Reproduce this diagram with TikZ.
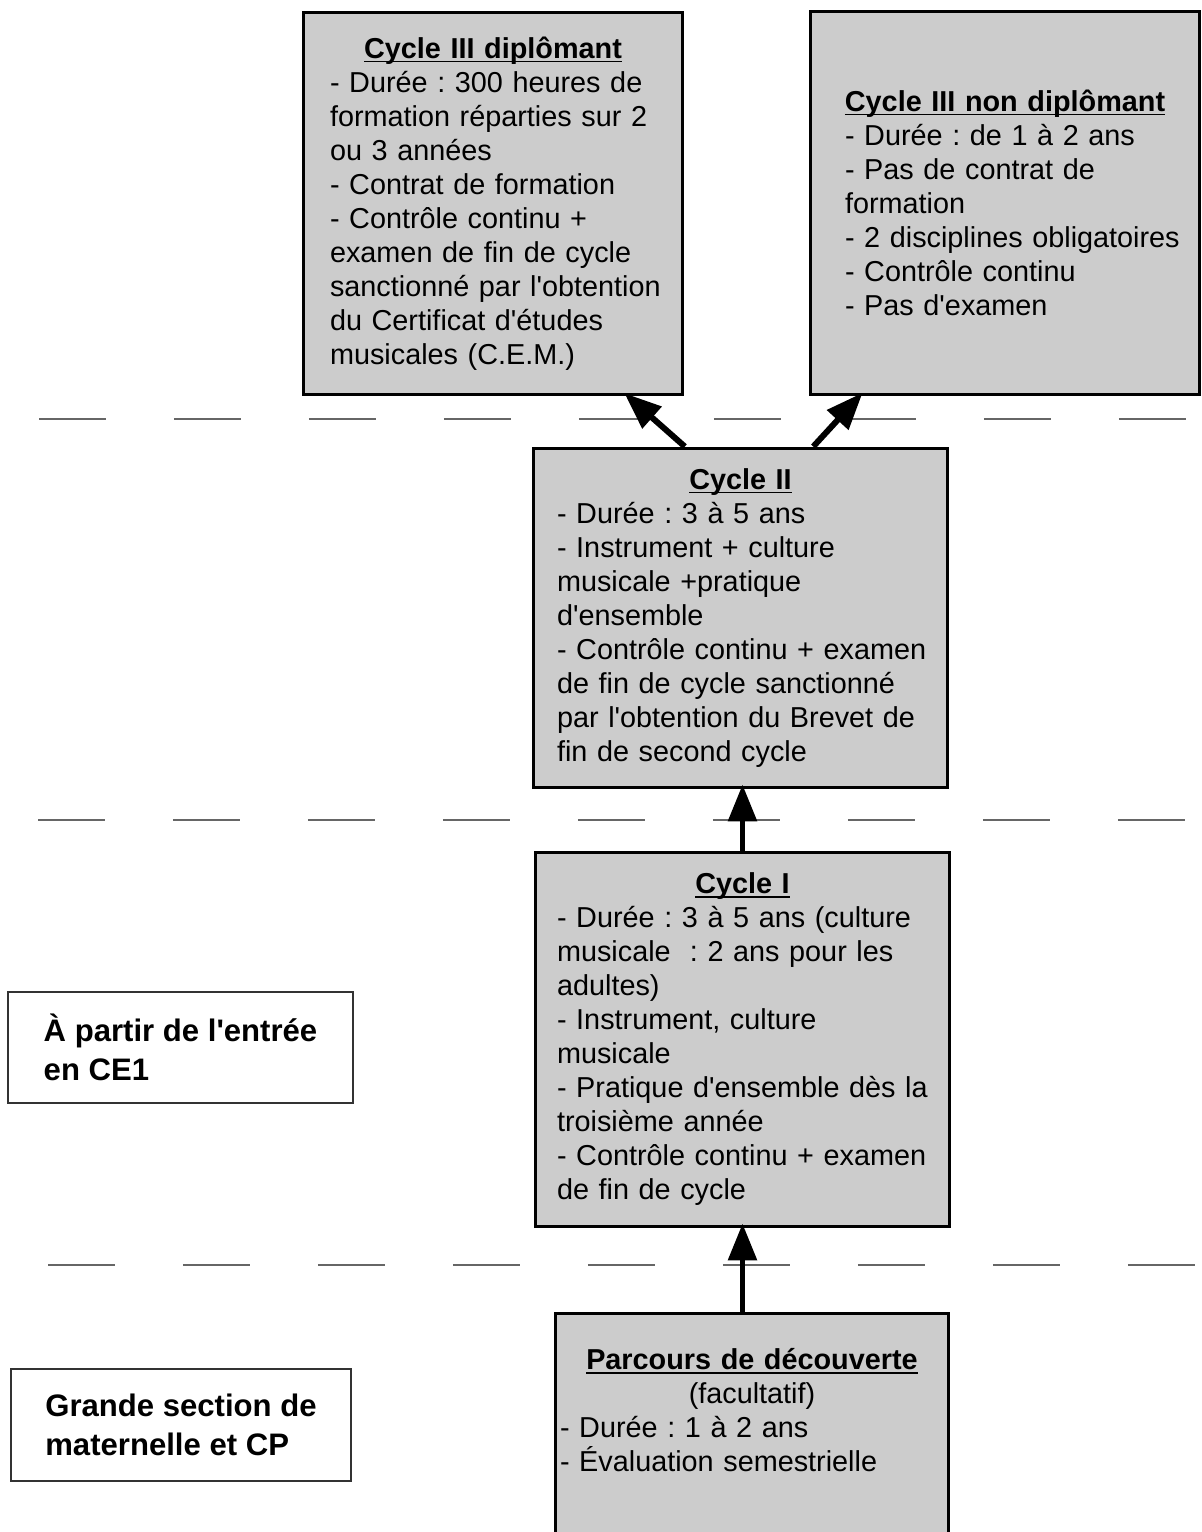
\documentclass[tikz,border=0pt]{standalone}
\usepackage{fontspec}
\setmainfont{Liberation Sans}[Ligatures=TeXOff]
\usetikzlibrary{arrows.meta,positioning}
\definecolor{boxgray}{HTML}{CCCCCC}
\newcommand{\boxtitle}[1]{{\centering\setbox0=\hbox{\bfseries #1}\rlap{\rule[-2.2pt]{\wd0}{0.9pt}}\box0\par}}

\begin{document}
\begin{tikzpicture}
	[
	x = {(0.020000cm, 0.000000cm)},
	y = {(0.000000cm, -0.020000cm)},
	cyclebox/.style = {draw = black, fill = boxgray, line width = 1.7pt, inner xsep = 0pt, inner ysep = 0pt, align = left, font = \fontsize{16.4}{19.35}\selectfont\frenchspacing},
	leftmargin/.style = {execute at begin node = {\leftskip = #1\relax}},
	agebox/.style = {draw = black!80, line width = 0.85pt, align = left, inner sep = 0pt, font = \fontsize{17.7}{22.2}\selectfont\bfseries},
	flow/.style = {line width = 3.4pt, shorten > = -0.1cm, -{Triangle[length = 0.74cm, width = 0.56cm]}},
	separator/.style = {color = black!60, line width = 0.85pt, dash pattern = on 1.34cm off 1.36cm}]
	
	\useasboundingbox (0, 0) rectangle (1202, 1532);
	\clip (0, 0) rectangle (1202, 1532);
	
	%% Drawing the separators
	
	\draw[separator] (39, 419) -- (1202, 419);
	\draw[separator] (38, 820) -- (1202, 820);
	\draw[separator] (48, 1265) -- (1202, 1265);
	
	%% Drawing the cycles
	
	\node[cyclebox, leftmargin = 0.54cm, minimum height = 7.66cm, text width = 7.6cm] (cyclethree) at (493, 203.5) {\boxtitle{Cycle III diplômant}
		- Durée : 300 heures de\\
		formation réparties sur 2\\
		ou 3 années\\
		- Contrat de formation\\
		- Contrôle continu +\\
		examen de fin de cycle\\
		sanctionné par l'obtention\\
		du Certificat d'études\\
		musicales (C.E.M.)};
	
	\node[cyclebox, leftmargin = 0.7cm, minimum height = 7.68cm, text width = 7.8cm] (cyclethreeb) at (1005, 203) {\boxtitle{Cycle III non diplômant}
		- Durée : de 1 à 2 ans\\
		- Pas de contrat de\\
		formation\\
		- 2 disciplines obligatoires\\
		- Contrôle continu\\
		- Pas d'examen};
	
	\node[cyclebox, leftmargin = 0.48cm, minimum height = 6.8cm, text width = 8.3cm] (cycletwo) at (740.5, 618) {\boxtitle{Cycle II}
		- Durée : 3 à 5 ans\\
		- Instrument + culture\\
		musicale +pratique\\
		d'ensemble\\
		- Contrôle continu + examen\\
		de fin de cycle sanctionné\\
		par l'obtention du Brevet de\\
		fin de second cycle};
	
	\node[cyclebox, leftmargin = 0.44cm, minimum height = 7.5cm, text width = 8.3cm] (cycleone) at (742.5, 1039.5) {\boxtitle{Cycle I}
		- Durée : 3 à 5 ans (culture\\
		musicale ~: 2 ans pour les\\
		adultes)\\
		- Instrument, culture\\
		musicale\\
		- Pratique d'ensemble dès la\\
		troisième année\\
		- Contrôle continu + examen\\
		de fin de cycle};
	
	\node[cyclebox, anchor = north, minimum width = 7.88cm, minimum height = 5.4cm] (parcours) at (752, 1312) {};
	\node[cyclebox, draw = none, fill = none, text width = 7.68cm, below = 0.7cm of parcours.north] (parcourstext) {\boxtitle{Parcours de découverte}
		{\centering (facultatif)\par}
		- Durée : 1 à 2 ans\\
		- Évaluation semestrielle};
	
	%% Drawing the ages
	
	\node[agebox, minimum width = 6.9cm, minimum height = 2.22cm] (entree) at (180.5, 1047.5) {À partir de l'entrée\\en CE1};
	\node[agebox, minimum width = 6.8cm, minimum height = 2.24cm] (grande) at (181, 1425) {Grande section de\\maternelle et CP};
	
	%% Drawing the arrows
	
	\draw[flow] (cycletwo.108) -- (cyclethree.305);
	\draw[flow] (cycletwo.67) -- (cyclethreeb.233);
	\draw[flow] (cycleone.north) -- (cycleone.north |- cycletwo.south);
	\draw[flow] (cycleone.south |- parcours.north) -- (cycleone.south);
\end{tikzpicture}
\end{document}
